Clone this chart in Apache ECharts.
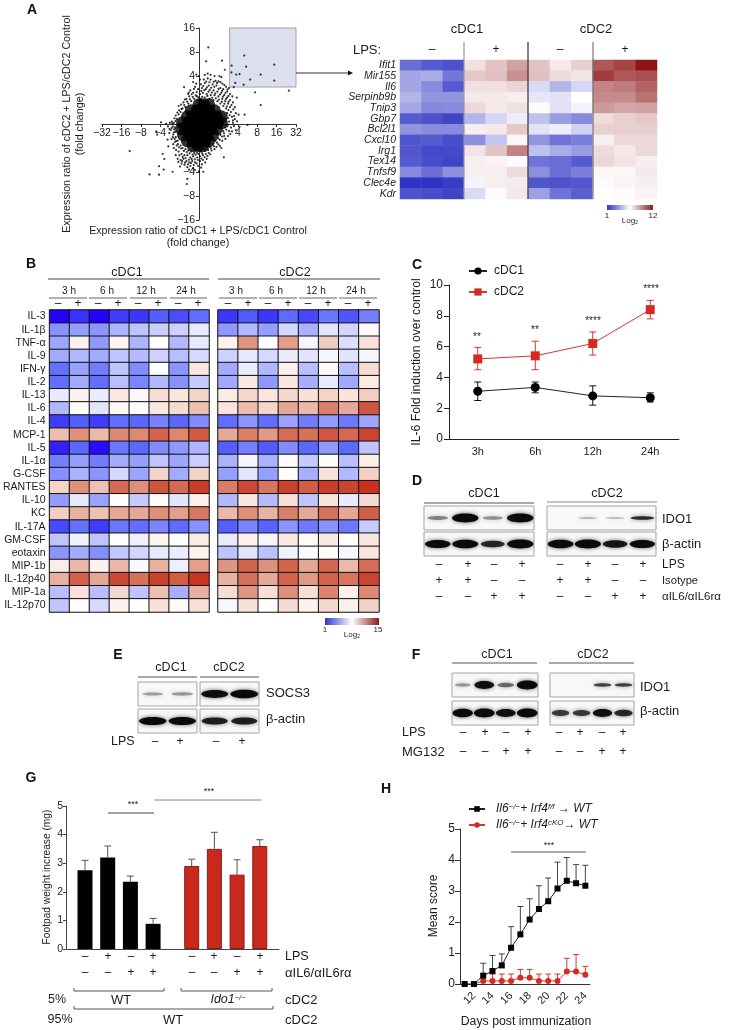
<!DOCTYPE html>
<html><head><meta charset="utf-8">
<style>html,body{margin:0;padding:0;background:#fff}#c{width:729px;height:1030px}</style>
<script src="https://cdn.jsdelivr.net/npm/echarts@6/dist/echarts.min.js"></script></head>
<body><div id="c"></div>
<script>
// ---------- Panel A scatter (signed log2 fold change) ----------
const scatterOutliers=[[.48,3.19],[.37,2.61],[1.19,2.64],[2.33,2.85],[2.43,2.39],[3.88,2.47],[3.18,2.06],[3.88,1.81],[2.64,1.85],[4.63,1.39],[3.18,.79],[2.89,1.32],[2.35,.39],[2.5,-.04],[2.09,2.08],[1.92,2.06],[1.67,2.15],[1.68,2.43],[1.33,2.26],[1.87,1.71],[2.3,1.64],[1.79,1.54],[-3.57,-1.13],[-2.55,-2.1],[-2.06,-2.11],[-2.06,-1.76],[-1.82,-1.9],[-1.87,-1.25],[-1.79,-1.46],[-1.36,-1.99],[-.6,-2.29],[-.63,-2.5],[0,-1.97],[.22,-1.99],[1.28,-1.39],[-.77,1.54],[-.14,2.06],[-2.2,-.31],[-2.16,-.44],[-1.96,.07],[-1.7,.01],[-1.53,-.38],[-1.62,-.65],[-1.58,-.93],[1.96,.11],[2.09,-.13],[2.04,.39]];
const scatterFringe=[[.1,1.05],[.3,1.1],[.55,1.05],[.75,1],[.95,.95],[1.1,.85],[1.25,.75],[1.4,.65],[1.45,.45],[1.5,.25],[1.55,.1],[.05,1.25],[.2,1.3],[.4,1.25],[.6,1.2],[.8,1.2],[1,1.15],[1.2,1.05],[1.35,.95],[1.5,.85],[1.6,.7],[1.65,.5],[1.7,.3],[1.75,.15],[-.05,1.45],[.15,1.5],[.35,1.45],[.55,1.42],[.75,1.4],[.95,1.35],[1.15,1.3],[1.3,1.2],[1.45,1.1],[1.6,1],[1.75,.9],[1.85,.7],[1.9,.45],[.1,1.65],[.3,1.7],[.5,1.6],[.7,1.65],[.9,1.6],[1.1,1.5],[1.25,1.45],[1.45,1.35],[1.6,1.25],[1.72,1.15],[1.95,1.1],[.25,1.85],[.45,1.9],[.6,1.85],[.85,1.8],[1,1.78],[1.1,1.75],[1.2,1.68],[1.4,1.55],[1.55,1.5],[.05,1.85],[.6,2.05],[.8,2],[1.05,2],[1.15,1.95],[.45,2.1],[.3,2.05],[-.1,1.15],[-.25,1.05],[-.4,.95],[-.55,.85],[-.7,.7],[-.3,1.3],[-.5,1.15],[-.2,1.55],[-.45,1.4],[-.65,1.05],[-.8,.9],[-.85,.65],[-.95,.5],[-1.05,.4],[-1.15,.2],[-1.2,.35],[-1.3,.05],[-1.05,.75],[-.3,1.75],[0,2],[-1.25,-.15],[-1.3,-.35],[-1.35,-.1],[-1.2,-.55],[-1.45,-.25],[-1.5,.05],[-1.4,.1],[-1.6,-.1],[-1.1,-.7],[-1.25,-.75],[-1.35,-.55],[-1.15,-.9],[-1.3,-1],[-.95,-.9],[-.85,-1],[-.7,-1.05],[-.55,-1.1],[-.4,-1.15],[-.25,-1.2],[-.1,-1.2],[.1,-1.15],[.25,-1.05],[.4,-1],[.55,-.95],[.7,-.85],[.85,-.7],[1,-.6],[1.1,-.45],[1.25,-.3],[1.35,-.15],[-1.05,-1.15],[-.9,-1.25],[-.75,-1.3],[-.6,-1.3],[-.45,-1.4],[-.3,-1.35],[-.1,-1.4],[.05,-1.35],[.2,-1.3],[.35,-1.25],[.5,-1.2],[.65,-1.1],[.8,-1.05],[-1.2,-1.3],[-1.1,-1.45],[-.95,-1.5],[-.8,-1.45],[-.65,-1.55],[-.5,-1.6],[-.35,-1.55],[-.2,-1.6],[.05,-1.55],[.2,-1.5],[.4,-1.45],[-.9,-1.65],[-.75,-1.7],[-.6,-1.8],[-.45,-1.75],[-.3,-1.85],[-.05,-1.75],[1.45,-.1],[1.55,-.3],[1.65,-.15],[1.75,.05],[1.85,.2],[1.9,-.25],[1.3,-.5],[1.2,-.7],[1.5,-.5],[1,-.85],[1.15,-1],[.9,-.95],
[.17,1.13],[.43,1.17],[.68,1.09],[.87,1.07],[1.03,1.02],[1.18,.93],[1.31,.84],[1.44,.74],[1.52,.58],[1.58,.37],[.12,1.38],[.28,1.41],[.49,1.34],[.66,1.31],[.84,1.28],[1.08,1.23],[1.23,1.14],[1.39,1.04],[1.53,.93],[1.67,.79],[1.77,.61],[1.81,.33],[.22,1.58],[.41,1.53],[.63,1.51],[.79,1.55],[1.01,1.46],[1.19,1.38],[1.36,1.29],[1.52,1.17],[.37,1.77],[.54,1.74],[.76,1.76],[.93,1.71],[1.31,1.62],[1.47,1.44],[-.02,1.11],[-.17,1.19],[-.32,1.12],[-.47,1.03],[-.61,.93],[-.76,.79],[-.9,.62],[-.12,1.33],[-.38,1.24],[-.56,1.25],[-.73,1.02],[-.93,.81],[-1.02,.57],[-1.12,.48],[-1.21,.12],[-1.27,.24],[-.14,1.68],[-.26,1.46],[-.53,1.31],
[-1.28,-.22],[-1.33,-.44],[-1.22,-.33],[-1.26,-.62],[-1.18,-.71],[-1.41,-.17],[-1.38,.02],[-1.09,-.84],[-1.03,-.97],[-1.18,-1.08],[-1.42,-.63],[-1.52,-.21],[-1.33,-.84],
[-.91,-1.02],[-.78,-1.12],[-.63,-1.17],[-.49,-1.22],[-.33,-1.27],[-.18,-1.28],[-.03,-1.25],[.16,-1.22],[.32,-1.13],[.47,-1.08],[.61,-1.01],[.77,-.93],[.93,-.78],[1.07,-.66],[1.19,-.52],[1.29,-.39],[1.41,-.24],[1.5,-.03],[-1.01,-1.31],[-.84,-1.37],[-.69,-1.42],[-.53,-1.49],[-.38,-1.46],[-.22,-1.47],[-.06,-1.5],[.12,-1.44],[.29,-1.38],[.44,-1.33],[.58,-1.26],[-1.06,-1.58],[-.87,-1.55],[-.72,-1.61],[-.57,-1.68],[-.42,-1.63],[-.27,-1.71],[-.12,-1.64],[.15,-1.68],[.32,-1.6],[-.98,-1.77],[-.51,-1.9],[-.21,-1.92],[.11,-1.82],[1.61,-.42],[1.7,-.31],[1.8,-.08],[1.36,-.62],[1.08,-.92]];
const scatterCore=[[0,.8],[.25,.8],[.5,.8],[-.4,.55],[-.1,.55],[.2,.55],[.5,.55],[.8,.55],[-.6,.3],[-.3,.3],[0,.3],[.3,.3],[.6,.3],[.9,.3],[1.15,.3],[-.85,.05],[-.55,.05],[-.25,.05],[.05,.05],[.35,.05],[.65,.05],[.95,.05],[1.15,.05],[-.9,-.2],[-.6,-.2],[-.3,-.2],[0,-.2],[.3,-.2],[.6,-.2],[.9,-.2],[-.8,-.45],[-.5,-.45],[-.2,-.45],[.1,-.45],[.4,-.45],[.7,-.45],[-.6,-.7],[-.3,-.7],[0,-.7],[.3,-.7],[.5,-.7],[-.3,-.9],[-.05,-.9],[.2,-.9]];

// ---------- Panel A heatmap ----------
const geneNames=['Ifit1','Mir155','Il6','Serpinb9b','Tnip3','Gbp7','Bcl2l1','Cxcl10','Irg1','Tex14','Tnfsf9','Clec4e','Kdr'];
const geneValues=[
[2.5,2,1.8,6.8,7.5,8.4,7.5,6.6,7.2,10.3,10.8,12],
[3.8,4,2.7,7.4,7.6,8.8,7.6,6.9,6.7,11,10.3,10.5],
[3.8,3.2,2,6.8,6.8,7.1,5.1,4.2,5,9.2,9.4,10],
[4.2,3.4,3.4,6.6,6.6,6.4,5.4,5.3,6,9,9,9.6],
[3.9,3.1,3.2,7,6.6,6.8,6.1,5.3,5.7,8.6,8.3,8.4],
[2,1.8,1.5,4.2,5,5.6,4.5,3.6,3.2,6.9,7.2,7.4],
[3.4,3.2,3.2,6.4,6.6,7.4,5.3,5.6,4.9,7.2,7.2,7.2],
[1.9,2,1.7,3.3,4.6,6.2,3.4,2.6,2.9,6.4,7,7],
[1.9,1.6,1.6,6.7,7.5,9.2,4.5,4,3.6,6.9,6.6,7],
[2,1.7,1.5,6.4,6.3,5.9,2.6,2.5,2,7,6.7,6.4],
[3.2,2.5,3.3,6.4,6.4,6.9,3.3,2.5,2.9,6.2,6.2,6.5],
[1.1,1.1,1.3,5.7,6.4,6.5,1.9,1.8,1.9,6.1,6.3,6.4],
[1.8,1.7,1.5,5.1,6.1,6.6,3.7,2.6,2.1,6,6.1,6.3]];

// ---------- Panel B heatmaps ----------
const cytokines=['IL-3','IL-1β','TNF-α','IL-9','IFN-γ','IL-2','IL-13','IL-6','IL-4','MCP-1','IL-5','IL-1α','G-CSF','RANTES','IL-10','KC','IL-17A','GM-CSF','eotaxin','MIP-1b','IL-12p40','MIP-1a','IL-12p70'];
const cytoCols=['3h−','3h+','6h−','6h+','12h−','12h+','24h−','24h+'];
const cytoCDC1=[
[1,1.8,1,2,1.9,2.8,2.4,3.2],[4.4,4.8,4.5,5.5,6,6.3,6.4,7.2],[5,8.6,4.6,8.4,5.5,8,5.6,7.2],[5.2,5.6,5.2,6,5.7,6.4,5.8,6.6],
[3.3,4.9,3.7,6,4.2,8,4.5,9],[3.2,5.2,3.2,5.8,4,5.6,4.4,6.2],[7.2,8.5,7.3,8.9,8.3,9.4,9,9.8],[5.6,8.1,7,8.3,8,9,9.5,10.5],
[2,2.8,2,3.2,3,3.9,3,4.2],[10.6,11.9,10.7,12.2,12.1,13.2,12.2,13.5],[1.5,3,1.2,3.5,3,4.2,4.6,5.5],[3.8,4.8,3.7,5.2,4.8,6,5,6.3],
[4.3,5.4,4.5,6.6,5,9.8,5.2,9.8],[9.8,11.9,10.5,13,12,13.7,13,14.4],[4.7,7.2,4.9,8.1,6.2,8.2,7,8.6],[10,11,10.4,11.2,11.2,12,11.5,12.6],
[2.3,3.3,2,3.5,3.2,4,3.1,4.4],[6,7.5,6,8.1,7.4,8.4,8,8.8],[4.5,5.2,4.3,6.1,6.5,7.2,7.3,8.5],[8.7,10.8,8.5,10.8,7.8,11,7.4,11.5],
[11,13.3,11.3,14,12.8,14.3,13.4,14.7],[5.8,9.2,5.8,9.6,6,10.5,5.3,11],[6,8.1,6.6,8.5,8,9.2,8.2,9.3]];
const cytoCDC2=[
[1.9,2.7,1.9,3.1,2.3,3.5,2.6,3.8],[4.6,5.6,4.8,6.6,5.4,7,6.5,8.2],[8.5,11.8,8,11.5,7.6,10.1,6.8,9.2],[6.4,7.1,6.6,7.3,7,7.6,7,7.6],
[5.2,7.3,5.6,8.6,5.8,8.2,5.8,9.4],[5.1,8.9,4.6,9,5.3,7.2,5.1,8.8],[8.8,9.6,9,9.6,9.2,9.8,9.1,10],[9.1,10.6,9.7,11.3,10.7,12.4,11.2,13.6],
[3.2,4.5,3.2,4.9,3.7,4.7,3.6,5],[11.2,12.4,11.7,12.9,12.8,13.6,13,14.2],[2.8,3.8,2.7,4.2,3,4.6,3.1,6],[5.4,7.6,5.4,8.2,6.2,8.2,5.8,8.7],
[4.8,7,4.8,8.1,5.3,9.2,5.6,9.9],[12.5,14,12.7,14.3,13.4,14.4,14.2,14.8],[5.6,9,5.7,9.3,6,9.1,7.2,9.5],[10.7,12,10.9,12.4,11.2,12.8,11.3,13.3],
[2.8,4,2.9,4.5,3.6,4.4,3.6,6.2],[7.2,8.5,7.6,8.9,8.2,8.9,8.1,9],[6,7,5.9,7.5,7.9,8.1,7.7,9],[11.8,13.2,11.9,13.2,11.3,13.1,10.7,12.9],
[10.9,12.8,11.2,13.2,11.7,13.2,12.7,14.2],[9.4,11.8,9.3,12,9.3,12.3,8.6,12.1],[7.7,9.2,8,9.5,8.5,9.6,8.6,9.9]];

// ---------- Panel C ----------
const cTimes=['3h','6h','12h','24h'];
const cDC1Mean=[3.1,3.35,2.8,2.68], cDC1Low=[2.5,3,2.2,2.4], cDC1High=[3.7,3.7,3.45,3];
const cDC2Mean=[5.2,5.4,6.2,8.4], cDC2Low=[4.5,4.5,5.45,7.8], cDC2High=[5.95,6.35,6.95,9];

// ---------- Panel G ----------
const gGroupPos=[1,2,3,4,5.7,6.7,7.7,8.7];
const gMeans=[2.75,3.2,2.35,.88,2.9,3.5,2.6,3.6];
const gTops=[3.1,3.6,2.55,1.07,3.14,4.08,3.12,3.82];

// ---------- Panel H ----------
const hDays=['11','12','13','14','15','16','17','18','19','20','21','22','23','24'];
const hBlack=[0,0,.27,.42,.6,1.17,1.6,2.08,2.42,2.67,3.08,3.33,3.25,3.17];
const hBlackTop=[0,0,.67,.92,.97,1.85,2.5,2.75,3.17,3.42,3.93,4.08,3.85,3.83];
const hRed=[null,0,.1,.1,.1,.1,.2,.2,.1,.1,.1,.4,.4,.3];
const hRedTop=[null,0,.32,.32,.32,.32,.47,.47,.32,.32,.32,.83,.95,.57];

// ---------- Western blot band intensities (0-1) ----------
const blotD_IDO1_c1=[.3,1,.25,1], blotD_IDO1_c2=[0,.18,.15,.7];
const blotD_actin_c1=[.9,.95,.7,1], blotD_actin_c2=[.95,1,.8,.9];
const blotE_SOCS3_c1=[.2,.22], blotE_SOCS3_c2=[.85,.95];
const blotE_actin_c1=[.9,.9], blotE_actin_c2=[.75,.75];
const blotF_IDO1_c1=[.22,.85,.4,1], blotF_IDO1_c2=[0,0,.6,.6];
const blotF_actin_c1=[.95,1,.85,1], blotF_actin_c2=[.6,.6,.85,.7];

const FF='"Liberation Sans",Arial,sans-serif', INK='#1c1c1c';
const grid=[],xAxis=[],yAxis=[],series=[],gfx=[],visualMap=[],legend=[];

function T(text,x,y,o={}){
  gfx.push({type:'text',x,y,rotation:o.rot||0,silent:true,z:100,style:{text,textAlign:o.align||'center',textVerticalAlign:'middle',
    fontSize:o.size||11,fontFamily:FF,fontWeight:o.weight||'normal',fontStyle:o.italic?'italic':'normal',fill:o.color||INK,rich:o.rich}});
}
function L(x1,y1,x2,y2,c='#333',w=1){gfx.push({type:'line',silent:true,z:100,shape:{x1,y1,x2,y2},style:{stroke:c,lineWidth:w}});}
function signRow(s,xs,y){[...s].forEach((c,i)=>T(c==='+'?'+':'–',xs[i],y,{size:12}));}
function addGrid(l,t,w,h,extra={}){grid.push(Object.assign({left:l,top:t,width:w,height:h,show:false},extra));return grid.length-1;}
function hidden(a){return Object.assign({show:false},a);}

function errSeries(gi,data,color,cap,both){
  return {type:'custom',xAxisIndex:gi,yAxisIndex:gi,silent:true,z:3,encode:{x:0,y:[1,2]},data,
    renderItem(p,api){
      const a=api.coord([api.value(0),api.value(1)]),b=api.coord([api.value(0),api.value(2)]);
      const st={stroke:color,lineWidth:1};
      const ch=[{type:'line',shape:{x1:a[0],y1:a[1],x2:b[0],y2:b[1]},style:st},
                {type:'line',shape:{x1:b[0]-cap,y1:b[1],x2:b[0]+cap,y2:b[1]},style:st}];
      if(both)ch.push({type:'line',shape:{x1:a[0]-cap,y1:a[1],x2:a[0]+cap,y2:a[1]},style:st});
      return {type:'group',children:ch};
    }};
}
function zip3(a,l,h){return a.map((_,i)=>[i,l[i],h[i]]).filter(r=>r[1]!=null);}

// ---- A scatter
{
  const g=addGrid(102,28,194,192);
  const fmt=v=>Math.abs(v)<2?'':(v<0?'−':'')+Math.pow(2,Math.abs(v));
  const ax={type:'value',interval:1,splitLine:{show:false},axisLine:{show:true,onZero:false,lineStyle:{color:'#333'}},axisTick:{length:3,lineStyle:{color:'#333'}},
    axisLabel:{fontFamily:FF,fontSize:10.5,color:INK,margin:4,formatter:fmt,hideOverlap:false,showMinLabel:true,showMaxLabel:true}};
  xAxis.push(Object.assign({},ax,{gridIndex:g,min:-5,max:5,position:'bottom',offset:-96}));
  yAxis.push(Object.assign({},ax,{gridIndex:g,min:-4,max:4,position:'left',offset:-97}));
  series.push({type:'scatter',xAxisIndex:g,yAxisIndex:g,symbolSize:2.2,itemStyle:{color:'#000'},data:scatterOutliers.concat(scatterFringe),silent:true,z:4,
    markArea:{silent:true,z:1,itemStyle:{color:'#dcdfee',borderColor:'#a3a3ab',borderWidth:1},data:[[{xAxis:1.58,yAxis:4},{xAxis:5,yAxis:1.54}]]}});
  series.push({type:'scatter',xAxisIndex:g,yAxisIndex:g,symbolSize:13,itemStyle:{color:'#000'},data:scatterCore,silent:true,z:4});
  T('Expression ratio of cDC2 + LPS/cDC2 Control',67,124,{rot:Math.PI/2,size:10.7});
  T('(fold change)',80,124,{rot:Math.PI/2,size:10.7});
  T('Expression ratio of cDC1 + LPS/cDC1 Control',198,231,{size:10.7});
  T('(fold change)',198,243,{size:10.7});
  L(296,73,349,73);
  gfx.push({type:'polygon',silent:true,z:100,shape:{points:[[348,70.5],[353,73],[348,75.5]]},style:{fill:'#111'}});
}
// ---- A heatmap
function heat(l,t,w,h,cols,rows,mat,vmMin,vmMax,colors,border,lab,cfg){
  const g=addGrid(l,t,w,h);
  xAxis.push(hidden({gridIndex:g,type:'category',data:cols}));
  yAxis.push({gridIndex:g,type:'category',data:rows,inverse:true,axisLine:{show:false},axisTick:{show:false},
    axisLabel:Object.assign({show:lab,interval:0,fontFamily:FF,color:INK},cfg||{})});
  const data=[];mat.forEach((r,i)=>r.forEach((v,j)=>data.push([j,i,v])));
  series.push({type:'heatmap',xAxisIndex:g,yAxisIndex:g,data,silent:true,itemStyle:border?{borderColor:'#111',borderWidth:1}:{}});
  visualMap.push({show:false,min:vmMin,max:vmMax,seriesIndex:series.length-1,dimension:2,inRange:{color:colors}});
}
heat(400,60,257,139,Array.from({length:12},(_,i)=>'s'+(i+1)),geneNames,geneValues,0,12,['#0007b6','#ffffff','#8e1416'],false,true,{fontStyle:'italic',fontSize:10.5,margin:4});
T('cDC1',467,29,{size:13});T('cDC2',596,29,{size:13});
T('LPS:',367,50,{size:13});
[[432,'–'],[496,'+'],[560,'–'],[625,'+']].forEach(a=>T(a[1],a[0],50,{size:12}));
L(464,42,464,199,'#999',1.2);L(528,42,528,199,'#333',1.2);L(593,42,593,199,'#777',1.2);
function gradBar(x,y,w,h){gfx.push({type:'rect',silent:true,z:100,shape:{x,y,width:w,height:h},style:{fill:new echarts.graphic.LinearGradient(0,0,1,0,[{offset:0,color:'#2f35c4'},{offset:.5,color:'#ffffff'},{offset:1,color:'#8e1a1a'}])}});}
gradBar(607,205,46,5);T('1',607,216,{size:8});T('12',653,216,{size:8});T('Log₂',630,221,{size:8});

// ---- B heatmaps
const bCol=['#2400ff','#3f3cff','#5a68ff','#7b85ff','#9ca5ff','#bfc4ff','#e3e5ff','#ffffff','#f9e6df','#f1cfc4','#e8b09f','#de8e79','#d46a52','#cc4a35','#c42c18'];
heat(48,310,161,302,cytoCols,cytokines,cytoCDC1,1,15,bCol,true,true,{fontSize:10.5,margin:4});
heat(218,310,161,302,cytoCols,cytokines,cytoCDC2,1,15,bCol,true,false);
T('cDC1',127,273,{size:12.5});L(48,279,209,279,'#444');
T('cDC2',295,273,{size:12.5});L(218,279,380,279,'#444');
[[69,'3 h',49,87],[107,'6 h',89,127],[146,'12 h',130,167],[186,'24 h',170,207],[236,'3 h',219,257],[276,'6 h',259,297],[316,'12 h',299,337],[356,'24 h',339,377]]
 .forEach(a=>{T(a[1],a[0],291,{size:10});L(a[2],298,a[3],298,'#666');});
const colX1=[58,78,98,118,138,158,178,198],colX2=[228,248,268,288,308,328,348,368];
signRow('-+-+-+-+',colX1,304);signRow('-+-+-+-+',colX2,304);
gradBar(325,618,54,7);T('1',325,630,{size:8});T('15',378,630,{size:8});T('Log₂',352,635,{size:8});

// ---- C
{
  const g=addGrid(449,285,230,154);
  xAxis.push({gridIndex:g,type:'category',data:cTimes,axisLine:{lineStyle:{color:'#222'}},axisTick:{alignWithLabel:true,lineStyle:{color:'#222'}},axisLabel:{fontFamily:FF,fontSize:11,color:INK,margin:7}});
  yAxis.push({gridIndex:g,type:'value',min:0,max:10,interval:2,splitLine:{show:false},axisLine:{show:true,lineStyle:{color:'#222'}},axisTick:{show:true,lineStyle:{color:'#222'}},axisLabel:{fontFamily:FF,fontSize:12,color:INK,margin:6}});
  series.push(errSeries(g,zip3(cDC1Mean,cDC1Low,cDC1High),'#111',3.5,true));
  series.push(errSeries(g,zip3(cDC2Mean,cDC2Low,cDC2High),'#d8352c',3.5,true));
  series.push({name:'cDC1',type:'line',xAxisIndex:g,yAxisIndex:g,data:cDC1Mean,symbol:'circle',symbolSize:9,itemStyle:{color:'#000'},lineStyle:{color:'#222',width:1},silent:true,z:4});
  series.push({name:'cDC2',type:'line',xAxisIndex:g,yAxisIndex:g,data:cDC2Mean,symbol:'rect',symbolSize:9,itemStyle:{color:'#d42a22'},lineStyle:{color:'#d8352c',width:1},silent:true,z:4});
  legend.push({data:['cDC1','cDC2'],left:463,top:260,orient:'vertical',itemWidth:18,itemHeight:9,itemGap:9,selectedMode:false,textStyle:{fontFamily:FF,fontSize:12,color:INK,padding:[0,0,0,2]}});
  T('IL-6 Fold induction over control',417,362,{rot:Math.PI/2,size:12.2});
  T('**',477,337,{size:10});T('**',535,330,{size:10});T('****',593,321,{size:10});T('****',651,289,{size:10});
}
// ---- blots
function blot(l,t,w,h,vals,opt={}){
  const g=addGrid(l,t,w,h,{show:true,borderColor:'#a5a5a5',borderWidth:1,backgroundColor:'#f8f8f8'});
  xAxis.push(hidden({gridIndex:g,type:'category',data:vals.map((_,i)=>'lane'+(i+1))}));
  yAxis.push(hidden({gridIndex:g,type:'value',min:0,max:1}));
  const thin=opt.thin||1;
  series.push({type:'custom',xAxisIndex:g,yAxisIndex:g,silent:true,clip:true,encode:{x:0,y:1},
    data:vals.map((v,i)=>[i,v]),
    renderItem(p,api){
      const v=api.value(1); if(v<=0)return null;
      const c=api.coord([api.value(0),.5]),bw=api.size([1,0])[0];
      const rx=bw*(.33+.15*v),ry=h*(.035+.15*v)*thin;
      return {type:'ellipse',shape:{cx:c[0],cy:c[1],rx,ry},style:{fill:'#0a0a0a',opacity:Math.min(1,.12+v),shadowBlur:4,shadowColor:'rgba(0,0,0,.6)'}};
    }});
}
// D
blot(424,506,110,24,blotD_IDO1_c1);blot(547,506,109,24,blotD_IDO1_c2,{thin:.55});
blot(424,532,110,24,blotD_actin_c1);blot(547,532,109,24,blotD_actin_c2);
T('cDC1',484,494,{size:12.5});L(424,503,534,503,'#555');T('cDC2',607,494,{size:12.5});L(547,502,657,502,'#888');
T('IDO1',662,519,{align:'left',size:13});T('β-actin',662,544,{align:'left',size:13});
T('LPS',662,565,{align:'left',size:12});T('Isotype',662,581,{align:'left',size:11.2});T('αIL6/αIL6rα',662,597,{align:'left',size:11.5});
const dX=[439,468,494,522,560,588,615,643];
signRow('-+-+-+-+',dX,565);signRow('++--++--',dX,581);signRow('--++--++',dX,597);
// E
blot(138,682,59,24,blotE_SOCS3_c1);blot(200,682,59,24,blotE_SOCS3_c2);
blot(138,709,59,24,blotE_actin_c1);blot(200,709,59,24,blotE_actin_c2);
T('cDC1',171,668,{size:12.5});L(138,677,197,677,'#555');T('cDC2',229,668,{size:12.5});L(200,677,259,677,'#555');
T('SOCS3',266,693,{align:'left',size:13});T('β-actin',266,719,{align:'left',size:13});
T('LPS',111,742,{align:'left',size:12.5});signRow('-+-+',[155,180,216,242],742);
// F
blot(452,673,86,24,blotF_IDO1_c1);blot(550,673,84,24,blotF_IDO1_c2,{thin:.55});
blot(452,701,86,24,blotF_actin_c1);blot(550,701,84,24,blotF_actin_c2);
T('cDC1',497,655,{size:12.5});L(452,663,537,663,'#555');T('cDC2',593,655,{size:12.5});L(549,663,634,663,'#555');
T('IDO1',640,687,{align:'left',size:13});T('β-actin',640,711,{align:'left',size:13});
T('LPS',402,733,{align:'left',size:12.5});T('MG132',402,752,{align:'left',size:13});
const fX=[463,485,506,528,559,580,602,623];
signRow('-+-+-+-+',fX,733);signRow('--++--++',fX,752);

// ---- G
{
  const g=addGrid(66,806,213,143);
  xAxis.push({gridIndex:g,type:'value',min:1-19/22.7,max:1+213/22.7-19/22.7,axisLine:{show:true,onZero:false,lineStyle:{color:'#444'}},axisTick:{show:false},axisLabel:{show:false},splitLine:{show:false}});
  yAxis.push({gridIndex:g,type:'value',min:0,max:5,interval:1,splitLine:{show:false},axisLine:{show:true,lineStyle:{color:'#444'}},axisTick:{show:true,length:3,lineStyle:{color:'#444'}},axisLabel:{fontFamily:FF,fontSize:10.5,color:INK,margin:3}});
  series.push({type:'bar',xAxisIndex:g,yAxisIndex:g,barWidth:15,silent:true,
    data:gMeans.map((v,i)=>({value:[gGroupPos[i],v],itemStyle:{color:i<4?'#000':'#c9281c',borderColor:i<4?'#333':'#8a1d14',borderWidth:i<4?0:1}}))});
  series.push(errSeries(g,gMeans.map((v,i)=>[gGroupPos[i],v,gTops[i]]),'#555',3.5,false));
  T('Footpad weight increase (mg)',47,877,{rot:Math.PI/2,size:10.2});
  L(108,813,154,813,'#444');T('***',133,805,{size:9});
  L(154,800,261,800,'#888');T('***',209,792,{size:9});
  const gX=[85,108,131,153,192,214,237,260];
  signRow('-+-+-+-+',gX,957);signRow('--++--++',gX,973);
  T('LPS',285,957,{align:'left',size:12.5});T('αIL6/αIL6rα',285,973,{align:'left',size:13});
  const br=(a,b,y)=>{L(a,y,b,y,'#555');L(a,y-3,a,y,'#555');L(b,y-3,b,y,'#555');};
  br(74,164,991);br(181,272,991);br(74,273,1009);
  T('5%',57,1000,{size:12.5});T('WT',121,1000,{size:13});T('cDC2',285,1000,{align:'left',size:13});
  T('{i|Ido1}{s|−/−}',228,1000,{size:12.5,rich:{i:{fontStyle:'italic',fontSize:12.5,fontFamily:FF,fill:INK},s:{fontStyle:'italic',fontSize:7.5,fontFamily:FF,fill:INK,verticalAlign:'top'}}});
  T('95%',60,1020,{size:12.5});T('WT',173,1020,{size:13});T('cDC2',285,1020,{align:'left',size:13});
}
// ---- H
{
  const g=addGrid(460,829,130,155);
  const odd=(i)=>i%2===1;
  xAxis.push({gridIndex:g,type:'category',data:hDays,axisLine:{lineStyle:{color:'#333'}},axisTick:{alignWithLabel:true,interval:odd,length:3,lineStyle:{color:'#333'}},axisLabel:{interval:odd,rotate:45,fontFamily:FF,fontSize:11,color:INK,margin:10}});
  yAxis.push({gridIndex:g,type:'value',min:0,max:5,interval:1,splitLine:{show:false},axisLine:{show:true,lineStyle:{color:'#333'}},axisTick:{show:true,lineStyle:{color:'#333'}},axisLabel:{fontFamily:FF,fontSize:12,color:INK,margin:5}});
  series.push(errSeries(g,zip3(hBlack,hBlack,hBlackTop),'#444',3,false));
  series.push(errSeries(g,zip3(hRed,hRed,hRedTop),'#d8352c',3,false));
  const n1='Il6−/−+ Irf4f/f → WT',n2='Il6−/−+ Irf4cKO→ WT';
  series.push({name:n1,type:'line',xAxisIndex:g,yAxisIndex:g,data:hBlack,symbol:'rect',symbolSize:6,itemStyle:{color:'#000'},lineStyle:{color:'#222',width:1},silent:true,z:4});
  series.push({name:n2,type:'line',xAxisIndex:g,yAxisIndex:g,data:hRed,symbol:'circle',symbolSize:6,itemStyle:{color:'#d42a22'},lineStyle:{color:'#d8352c',width:1},silent:true,z:3});
  legend.push({data:[n1,n2],left:463,top:798,orient:'vertical',itemWidth:16,itemHeight:7,itemGap:4,selectedMode:false,
    formatter:n=>n===n1?'{i|Il6}{s|−/−}{i|+ Irf4}{s|f/f}{i| → WT}':'{i|Il6}{s|−/−}{i|+ Irf4}{s|cKO}{i|→ WT}',
    textStyle:{fontFamily:FF,padding:[0,0,0,6],rich:{i:{fontStyle:'italic',fontSize:12,fontFamily:FF,color:INK},s:{fontStyle:'italic',fontSize:8,fontFamily:FF,color:INK,verticalAlign:'top'}}}});
  T('Mean score',434,906,{rot:Math.PI/2,size:12});
  T('Days post immunization',526,1022,{size:12.3});
  L(511,852,586,852,'#555');T('***',549,846,{size:9});
}
// ---- panel letters
[['A',32,10],['B',31,264],['C',417,265],['D',417,481],['E',118,655],['F',416,655],['G',31,778],['H',386,789]]
 .forEach(a=>T(a[0],a[1],a[2],{size:14,weight:'bold',color:'#111'}));

const chart=echarts.init(document.getElementById('c'),null,{renderer:'canvas',width:729,height:1030});
chart.setOption({animation:false,backgroundColor:'#fff',textStyle:{fontFamily:FF},grid,xAxis,yAxis,series,visualMap,legend,tooltip:{show:false},graphic:{elements:gfx}});
</script></body></html>
